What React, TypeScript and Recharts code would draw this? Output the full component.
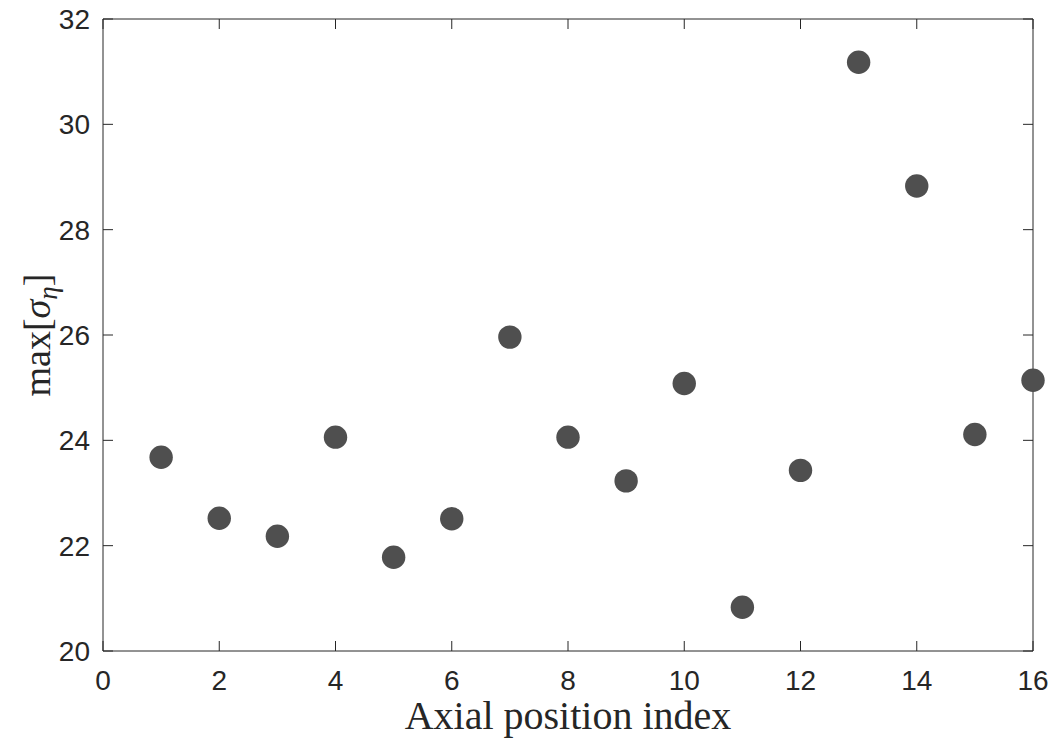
import React from 'react';
import { ScatterChart, Scatter, XAxis, YAxis, Label } from 'recharts';

const positionIndex = [1, 2, 3, 4, 5, 6, 7, 8, 9, 10, 11, 12, 13, 14, 15, 16];
const maxSigmaEta = [23.68, 22.52, 22.18, 24.06, 21.78, 22.51, 25.96, 24.06, 23.23, 25.08, 20.83, 23.43, 31.18, 28.83, 24.11, 25.14];
const xTicks = [0, 2, 4, 6, 8, 10, 12, 14, 16];
const yTicks = [20, 22, 24, 26, 28, 30, 32];

const data = positionIndex.map((x, i) => ({ x, y: maxSigmaEta[i] }));

const AXIS = '#262626';
const MARK = '#4f4f4f';
const TICK_FONT = '"Liberation Sans", Arial, Helvetica, sans-serif';
const LABEL_FONT = '"Liberation Serif", "Times New Roman", serif';

const BottomTick = (props: any) => {
  const { x, y, payload } = props;
  return (
    <g>
      <line x1={x} x2={x} y1={y} y2={y - 10} stroke={AXIS} strokeWidth={1} />
      <text x={x} y={y + 39} textAnchor="middle" fontFamily={TICK_FONT} fontSize={28} fill={AXIS}>
        {payload.value}
      </text>
    </g>
  );
};

const TopTick = (props: any) => {
  const { x, y } = props;
  return <line x1={x} x2={x} y1={y} y2={y + 10} stroke={AXIS} strokeWidth={1} />;
};

const LeftTick = (props: any) => {
  const { x, y, payload } = props;
  return (
    <g>
      <line x1={x} x2={x + 10} y1={y} y2={y} stroke={AXIS} strokeWidth={1} />
      <text x={x - 13} y={y + 10} textAnchor="end" fontFamily={TICK_FONT} fontSize={28} fill={AXIS}>
        {payload.value}
      </text>
    </g>
  );
};

const RightTick = (props: any) => {
  const { x, y } = props;
  return <line x1={x} x2={x - 10} y1={y} y2={y} stroke={AXIS} strokeWidth={1} />;
};

const XLabel = (props: any) => {
  const vb = props.viewBox;
  return (
    <text x={vb.x + vb.width / 2} y={vb.y + 78} textAnchor="middle" fontFamily={LABEL_FONT} fontSize={40} fill={AXIS}>
      Axial position index
    </text>
  );
};

const YLabel = (props: any) => {
  const vb = props.viewBox;
  const cx = 50;
  const cy = vb.y + vb.height / 2;
  return (
    <text
      x={cx}
      y={cy}
      transform={`rotate(-90, ${cx}, ${cy})`}
      textAnchor="middle"
      fontFamily={LABEL_FONT}
      fontSize={38}
      fill={AXIS}
    >
      max[<tspan fontStyle="italic">σ</tspan>
      <tspan fontStyle="italic" fontSize={27} dy={7}>η</tspan>
      <tspan dy={-7}>]</tspan>
    </text>
  );
};

const Dot = (props: any) => {
  const { cx, cy } = props;
  return <circle cx={cx} cy={cy} r={11.7} fill={MARK} />;
};

const NoDot = () => <g />;

export default function App() {
  return (
    <div style={{ position: 'absolute', left: 0, top: 0, width: 1058, height: 740, background: '#fff' }}>
      <ScatterChart width={1058} height={740} margin={{ top: 18, right: 24, bottom: 0, left: 0 }}>
        <XAxis
          xAxisId="b"
          type="number"
          dataKey="x"
          domain={[0, 16]}
          ticks={xTicks}
          interval={0}
          orientation="bottom"
          height={89}
          tickSize={0}
          tickMargin={0}
          tickLine={false}
          axisLine={{ stroke: AXIS, strokeWidth: 1 }}
          tick={<BottomTick />}
        >
          <Label content={<XLabel />} />
        </XAxis>
        <XAxis
          xAxisId="t"
          type="number"
          dataKey="x"
          domain={[0, 16]}
          ticks={xTicks}
          interval={0}
          orientation="top"
          height={1}
          tickSize={0}
          tickMargin={0}
          tickLine={false}
          axisLine={{ stroke: AXIS, strokeWidth: 1 }}
          tick={<TopTick />}
        />
        <YAxis
          yAxisId="l"
          type="number"
          dataKey="y"
          domain={[20, 32]}
          ticks={yTicks}
          interval={0}
          orientation="left"
          width={103}
          tickSize={0}
          tickMargin={0}
          tickLine={false}
          axisLine={{ stroke: AXIS, strokeWidth: 1 }}
          tick={<LeftTick />}
        >
          <Label content={<YLabel />} />
        </YAxis>
        <YAxis
          yAxisId="r"
          type="number"
          dataKey="y"
          domain={[20, 32]}
          ticks={yTicks}
          interval={0}
          orientation="right"
          width={1}
          tickSize={0}
          tickMargin={0}
          tickLine={false}
          axisLine={{ stroke: AXIS, strokeWidth: 1 }}
          tick={<RightTick />}
        />
        <Scatter data={data} xAxisId="t" yAxisId="r" shape={<NoDot />} isAnimationActive={false} />
        <Scatter data={data} xAxisId="b" yAxisId="l" shape={<Dot />} isAnimationActive={false} />
      </ScatterChart>
    </div>
  );
}
